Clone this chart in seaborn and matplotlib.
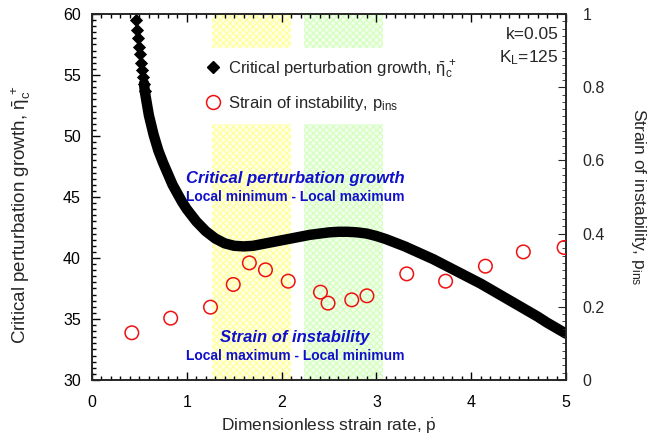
import matplotlib
matplotlib.use("Agg")
import matplotlib.pyplot as plt
from matplotlib.ticker import MultipleLocator
from matplotlib.lines import Line2D
import seaborn as sns
import pandas as pd

sns.set_style("ticks")
plt.rcParams["font.family"] = ["Liberation Sans", "DejaVu Sans"]
plt.rcParams["mathtext.fontset"] = "custom"
plt.rcParams["mathtext.rm"] = "Liberation Sans"
plt.rcParams["mathtext.it"] = "Liberation Sans:italic"
plt.rcParams["hatch.linewidth"] = 0.9

# Critical perturbation growth vs. dimensionless strain rate
rate = [0.464, 0.475, 0.485, 0.499, 0.510, 0.520, 0.528, 0.538, 0.549, 0.556,
        0.58, 0.60, 0.65, 0.70, 0.75, 0.80, 0.85, 0.90, 0.95, 1.00, 1.10, 1.20,
        1.30, 1.40, 1.50, 1.60, 1.70, 1.80, 1.90, 2.00, 2.10, 2.20, 2.30, 2.40,
        2.50, 2.60, 2.70, 2.80, 2.90, 3.00, 3.10, 3.20, 3.30, 3.40, 3.50, 3.60,
        3.70, 3.80, 3.90, 4.00, 4.10, 4.20, 4.30, 4.40, 4.50, 4.60, 4.70, 4.80,
        4.90, 5.00]
growth = [59.5, 58.7, 58.0, 57.3, 56.7, 56.0, 55.4, 54.8, 54.3, 53.7,
          52.6, 51.7, 50.1, 48.8, 47.8, 46.9, 46.0, 45.3, 44.6, 44.0, 43.0, 42.2,
          41.6, 41.2, 41.0, 40.95, 41.0, 41.15, 41.3, 41.45, 41.6, 41.75, 41.9, 42.0,
          42.1, 42.15, 42.15, 42.1, 42.0, 41.8, 41.55, 41.25, 40.95, 40.6, 40.25, 39.9,
          39.5, 39.1, 38.7, 38.3, 37.9, 37.45, 37.0, 36.55, 36.1, 35.65, 35.2, 34.7,
          34.25, 33.8]

# Strain of instability vs. dimensionless strain rate
rate_ins = [0.42, 0.83, 1.25, 1.49, 1.66, 1.83, 2.07, 2.41, 2.49, 2.74, 2.90,
            3.32, 3.73, 4.15, 4.55, 4.98]
p_ins = [0.129, 0.169, 0.199, 0.261, 0.320, 0.301, 0.270, 0.240, 0.210, 0.219,
         0.230, 0.290, 0.270, 0.311, 0.350, 0.362]

# Bands between local extrema
band_growth = (1.27, 2.10)
band_strain = (2.24, 3.07)

df_growth = pd.DataFrame({"rate": rate, "growth": growth})
df_steep = df_growth[df_growth["rate"] < 0.57]
df_ins = pd.DataFrame({"rate": rate_ins, "p_ins": p_ins})

fig = plt.figure(figsize=(6.51, 4.40), dpi=100)
ax = fig.add_axes([92 / 651, 1 - 380 / 440, 474 / 651, 366 / 440])

ax.axvspan(*band_growth, facecolor="#FFFFEA", edgecolor="#FFFF9C",
           hatch="xxxxx", linewidth=0, zorder=0)
ax.axvspan(*band_strain, facecolor="#F2FFEE", edgecolor="#D4FFBC",
           hatch="xxxxx", linewidth=0, zorder=0)

# thick curve with diamond markers visible along the steep branch
sns.lineplot(data=df_growth[df_growth["rate"] >= 0.54], x="rate", y="growth",
             ax=ax, color="black", linewidth=7.5, zorder=3, legend=False,
             solid_joinstyle="round", solid_capstyle="round")
sns.scatterplot(data=df_steep, x="rate", y="growth", ax=ax, color="black",
                marker="D", s=45, linewidth=0, zorder=3, legend=False)

ax.set_xlim(0, 5)
ax.set_ylim(30, 60)
ax.xaxis.set_major_locator(MultipleLocator(1))
ax.xaxis.set_minor_locator(MultipleLocator(0.1))
ax.yaxis.set_major_locator(MultipleLocator(5))
ax.yaxis.set_minor_locator(MultipleLocator(0.5))
ax.tick_params(which="both", direction="in", top=True, right=False,
               labelsize=11.5, width=1, colors="black")
ax.tick_params(which="major", length=6)
ax.tick_params(axis="x", which="major", pad=11)
ax.tick_params(axis="y", which="major", pad=8)
ax.tick_params(which="minor", length=3)
ax.set_xlabel(r"Dimensionless strain rate, $\dot{\mathrm{p}}$", fontsize=12.5, labelpad=5)
ax.set_ylabel(r"Critical perturbation growth, $\bar{\mathrm{\eta}}_\mathrm{c}^{\,+}$",
              fontsize=13.5)
ax.yaxis.set_label_coords(-0.125, 0.45)
for s in ax.spines.values():
    s.set_linewidth(1.2)

ax2 = ax.twinx()
sns.scatterplot(data=df_ins, x="rate", y="p_ins", ax=ax2, marker="o", s=95,
                facecolor="none", edgecolor="#EE1111", linewidth=1.1,
                zorder=4, legend=False)
ax2.set_ylim(0, 1)
ax2.yaxis.set_major_locator(MultipleLocator(0.2))
ax2.yaxis.set_minor_locator(MultipleLocator(0.02))
ax2.tick_params(which="both", direction="in", labelsize=11.5)
ax2.tick_params(which="major", length=6, pad=12)
ax2.tick_params(which="minor", length=3)
ax2.yaxis.set_major_formatter(plt.FuncFormatter(lambda v, p: f"{v:g}"))
ax2.set_xlabel("")
ax2.set_ylabel(r"Strain of instability, p$_\mathrm{ins}$", fontsize=12.5,
               rotation=270, labelpad=31)
for s in ax2.spines.values():
    s.set_linewidth(1.2)

handles = [
    Line2D([], [], color="black", marker="D", linestyle="none", markersize=6),
    Line2D([], [], marker="o", linestyle="none", markersize=10,
           markerfacecolor="none", markeredgecolor="#EE1111", markeredgewidth=1.1),
]
labels = [r"Critical perturbation growth, $\bar{\mathrm{\eta}}_\mathrm{c}^{\,+}$",
          r"Strain of instability, p$_\mathrm{ins}$"]
leg = ax2.legend(handles, labels, loc="upper left",
                 bbox_to_anchor=((196 - 92) / 474, (380 - 48) / 366),
                 frameon=True, fancybox=False, framealpha=1, edgecolor="white",
                 facecolor="white", fontsize=12, handlelength=0.8,
                 handletextpad=0.5, labelspacing=0.8, borderpad=0.6,
                 borderaxespad=0)
leg.set_zorder(2)

ax2.text(0.985, 0.945, "k=0.05", transform=ax2.transAxes, ha="right",
         va="center", fontsize=12.5)
ax2.text(0.985, 0.88, r"K$_\mathrm{L}$=125", transform=ax2.transAxes, ha="right",
         va="center", fontsize=12.5)

blue = "#1010CC"
ax.text(2.14, 46.5, "Critical perturbation growth", color=blue, fontsize=12,
        fontweight="bold", fontstyle="italic", ha="center", va="center")
ax.text(2.14, 45.0, "Local minimum - Local maximum", color=blue, fontsize=10,
        fontweight="bold", ha="center", va="center")
ax.text(2.14, 33.45, "Strain of instability", color=blue, fontsize=12,
        fontweight="bold", fontstyle="italic", ha="center", va="center")
ax.text(2.14, 32.0, "Local maximum - Local minimum", color=blue, fontsize=10,
        fontweight="bold", ha="center", va="center")

fig.savefig("out.png", dpi=100)
